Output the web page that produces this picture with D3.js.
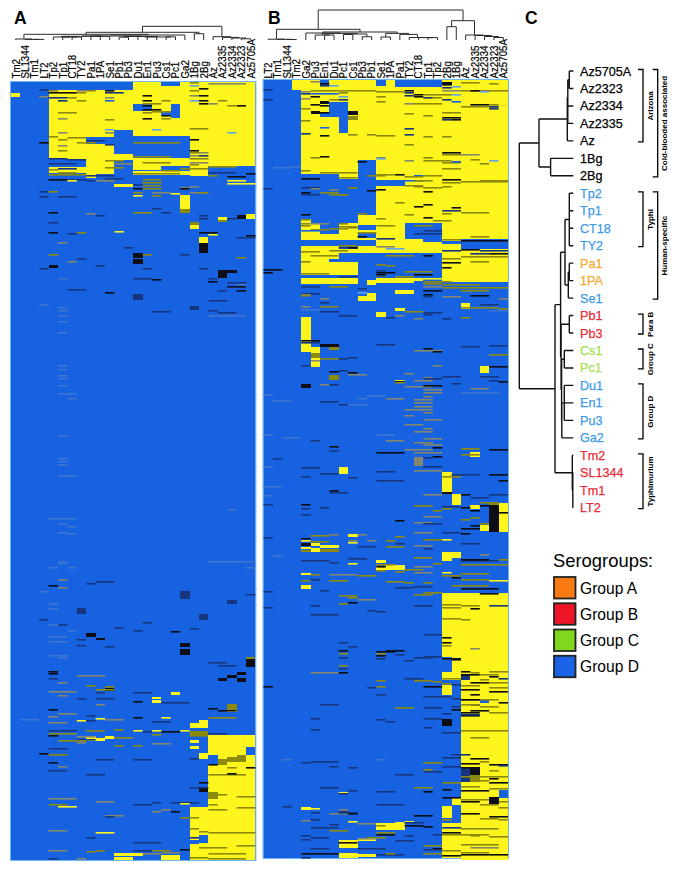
<!DOCTYPE html>
<html>
<head>
<meta charset="utf-8">
<script src="https://cdn.jsdelivr.net/npm/d3@7"></script>
<style>
  html, body { margin: 0; padding: 0; background: #fff; }
  text { font-family: "Liberation Sans", Arial, sans-serif; }
</style>
</head>
<body>
<div id="chart"></div>
<script>
const width = 678;
const height = 870;

// strain order of each heatmap
const columnsA = ["Tm2","SL1344","Tm1","LT2","Tp2","Tp1","CT18","TY2","Pa1","1PA","Se1","Pb1","Pb3","Du1","En1","Pu3","Cs1","Pc1","Ga2","1Bg","2Bg","Az","Az2335","Az2334","Az2323","Az5705A"];
const columnsB = ["LT2","Tm1","SL1344","Tm2","Ga2","Pu3","En1","Du1","Pc1","Cs1","Pb3","Pb1","Se1","1PA","Pa1","TY2","CT18","Tp1","Tp2","2Bg","1Bg","Az","Az2335","Az2334","Az2323","Az5705A"];
const leavesC = ["Az5705A","Az2323","Az2334","Az2335","Az","1Bg","2Bg","Tp2","Tp1","CT18","TY2","Pa1","1PA","Se1","Pb1","Pb3","Cs1","Pc1","Du1","En1","Pu3","Ga2","Tm2","SL1344","Tm1","LT2"];

// signal levels: -1 absent, 1 present, the rest in between; 2 grey, 3 pale blue, 4 faint
const levels = [-1, -0.5, 0, 0.5, 1, 2, 3, 4];
const levelColors = ["#1762e0", "#12367e", "#0c0c14", "#8c8a10", "#fdf51a", "#85866e", "#5fa4e8", "#3f74d0"];

// blocks: first column, end column, first row, end row, level
const blocksA = [
  [13,26,0,84,1],[16,18,0,4,-1],[0,1,11,15,1],[4,13,8,78,1],[11,13,48,72,-1],[13,19,54,76,-1],[8,11,55,62,-1],
  [13,15,22,29,-1],[17,18,22,36,-1],[16,17,29,33,-1],[4,8,77,84,-1],[4,8,85,91,1],[8,11,78,92,1],[8,9,92,96,1],
  [13,18,77,81,1],[13,16,83,88,1],[13,20,89,93,1],[19,21,84,94,1],[11,13,76,78,1],[11,13,102,105,1],
  [18,19,113,127,1],[18,19,127,131,0.5],[13,14,171,176,0],[13,14,177,182,0],[4,5,183,186,0],
  [20,21,155,161,1],[20,21,161,171,0],[19,20,143,147,1],[19,20,140,143,0.5],[22,23,135,138,1],[22,23,138,140,0.5],
  [25,26,132,137,1],[24,25,133,137,0],[22,23,188,191,0],[22,23,191,196,0],[23,24,188,191,0],
  [13,14,212,218,-0.5],[19,20,224,228,-0.5],[18,19,509,517,-0.5],[20,21,532,538,-0.5],[23,24,518,522,-0.5],[7,8,526,532,-0.5],
  [8,9,551,555,0],[9,10,556,558,0],[18,19,561,565,0],[18,19,567,573,0],[25,26,576,585,0],[25,26,575,577,0.5],
  [23,24,593,596,0],[24,25,590,593,0],[24,25,596,600,0],[22,23,596,599,0],
  [10,11,606,609,0],[15,16,615,617,1],[15,16,618,621,1],[17,18,610,613,1],[23,24,622,628,0.5],[23,24,628,630,1],
  [19,21,641,646,1],[20,21,638,641,1],[8,9,654,659,1],[9,10,656,659,1],[10,11,654,657,1],
  [21,26,653,690,1],[19,20,658,661,1],[19,20,664,667,1],[20,21,671,677,1],[19,21,649,653,0.5],
  [25,26,665,673,-1],[21,22,673,683,-1],[23,24,675,680,0.5],[22,23,677,683,0.5],[24,25,673,680,0.5],
  [21,26,690,778,1],[19,21,725,778,1],[20,21,753,761,-1],[19,20,758,762,-1],
  [11,14,771,774,1],[11,13,775,778,1],[16,18,773,778,1],[21,22,710,717,0.5],[20,21,706,710,0]
];

// streaks: row, first column, end column, level
const streaksA = [
  [7,3,4,-0.5],[8,4,5,0.5],[8,7,8,2],[8,8,9,0.5],[8,10,11,0],[8,19,20,0.5],[0,19,20,0.5],[3,19,20,3],[6,20,21,0],[1,21,25,2],
  [10,4,7,0],[10,7,8,0.5],[10,10,12,-0.5],[13,14,15,0],[13,19,20,2],[13,20,21,0],[14,3,4,2],[15,4,6,-0.5],[15,6,7,0.5],[15,10,11,2],
  [18,5,6,-0.5],[18,7,8,0.5],[18,10,11,-1],[18,14,15,0],[18,20,21,0],[18,19,20,3],[18,22,23,0.5],[18,16,17,0.5],
  [21,14,16,0.5],[21,20,21,0],[21,21,22,2],[23,24,25,0],[23,14,15,0],[23,23,24,0.5],[27,14,16,0],[29,15,17,0.5],[30,14,15,0.5],
  [30,5,7,0.5],[33,16,17,0],[36,14,15,0],[36,16,17,0.5],[36,5,6,2],[37,10,11,0.5],[46,19,21,0.5],[47,10,11,3],[50,5,6,2],[50,23,24,3],
  [47,15,16,3],[50,10,11,2],[54,4,5,0.5],[55,6,8,0.5],[57,5,6,0.5],[57,19,20,0],[58,8,10,-0.5],[60,3,4,0],[60,7,9,0.5],[60,13,15,0.5],[60,15,18,0.5],
  [62,10,11,-0.5],[63,5,6,2],[68,5,6,0.5],[68,19,20,0],[70,20,21,2],[70,19,20,0.5],[73,20,21,-0.5],[73,19,20,2],[74,13,15,0.5],[74,15,17,0.5],
  [76,4,6,-0.5],[76,19,21,0.5],[77,6,8,-0.5],[78,10,12,0.5],[80,14,17,0.5],[80,19,21,2],[81,4,7,-0.5],[81,11,13,2],[82,19,20,0.5],
  [84,21,24,0.5],[85,10,12,0.5],[86,18,21,0.5],[86,5,7,-0.5],[87,4,5,0.5],[88,16,18,0.5],[90,5,7,0.5],[90,21,24,-0.5],[91,13,18,0.5],[91,25,26,0],
  [92,4,8,0.5],[93,21,22,0.5],[93,8,11,-0.5],[94,23,25,0],[96,10,12,-0.5],[97,6,8,-0.5],[97,4,6,0],[98,6,7,1],[98,8,9,-0.5],[98,9,11,2],[97,14,16,0.5],
  [98,23,25,1],[100,14,16,0.5],[101,23,26,1],[102,13,14,-0.5],[103,14,16,0.5],[105,18,19,2],[106,13,14,0],[106,14,15,0.5],[106,15,16,0.5],[106,18,19,0],[104,19,20,2],
  [109,3,4,-0.5],[109,4,5,0.5],[110,13,14,0.5],[110,15,17,2],[110,19,21,2],[110,20,21,0.5],[111,17,18,1],[113,13,14,1],[113,15,16,0.5],[114,3,4,-0.5],[114,5,7,-0.5],
  [126,15,16,-0.5],[130,4,5,0],[130,13,15,0.5],[130,16,17,-0.5],[131,8,9,2],[133,9,10,-0.5],[133,20,21,-0.5],[136,20,21,-0.5],[140,4,5,-0.5],[136,23,24,-0.5],
  [150,4,5,0],[150,7,8,0.5],[149,11,12,1],[152,21,22,1],[150,20,22,0],[153,25,26,0],[155,24,26,-0.5],[151,6,7,-0.5],[160,5,6,2],[165,12,13,-0.5],[172,4,5,0.5],
  [172,13,14,0],[172,14,15,0.5],[175,24,25,0.5],[172,18,19,-0.5],[176,7,8,-0.5],[179,6,7,2],[183,9,10,-0.5],[186,14,15,-0.5],[186,3,4,-0.5],[186,20,21,-0.5],
  [196,13,15,-0.5],[196,21,22,-0.5],[197,15,16,0],[199,21,22,0],[200,23,25,-0.5],[204,23,25,0],[208,24,25,0],[207,6,8,-0.5],[210,10,11,0],[202,24,25,4],[208,22,23,-0.5],
  [218,21,23,-0.5],[222,3,4,4],[226,19,20,-0.5],[228,21,22,-0.5],[230,22,24,-0.5],[229,15,17,-0.5],[233,21,25,4],
  [196,5,6,4],[225,5,6,4],[228,5,6,4],[233,5,6,4],[239,5,6,4],[250,5,6,4],[283,5,6,4],[287,5,6,4],[293,5,6,4],[296,5,6,4],[303,5,6,4],[311,5,6,4],[311,6,7,4],[316,6,7,4],[353,5,6,4],[376,5,6,4],[379,5,6,4],[382,5,6,4],[393,5,6,4],[393,6,7,4],
  [436,4,6,4],[436,6,7,4],[441,5,6,4],[444,6,7,4],[450,5,6,4],[451,6,7,4],[479,5,6,4],[481,5,6,4],[485,4,5,4],[485,6,7,4],[479,21,26,4],[485,25,26,4],[427,23,24,4],
  [497,5,6,2],[503,4,5,0],[505,5,6,2],[501,8,9,-0.5],[499,9,11,-0.5],[509,3,4,4],[512,25,26,-0.5],[521,4,5,4],[526,4,5,4],[537,3,4,-0.5],[542,4,5,4],[542,5,6,-0.5],[548,6,7,4],
  [549,17,18,0],[546,19,20,-0.5],[545,11,12,-0.5],[540,14,15,-0.5],[548,13,14,-0.5],[554,4,6,4],[557,7,8,-0.5],[564,10,11,-0.5],
  [559,4,6,4],[563,7,8,-0.5],[573,4,6,4],[575,5,6,4],[580,21,23,-0.5],[583,22,24,-0.5],[589,4,5,0],[591,4,5,0],[593,7,10,2],[596,4,5,-0.5],[600,5,6,2],
  [603,8,9,0.5],[604,10,11,0.5],[607,9,11,0.5],[609,4,7,2],[610,9,10,-0.5],[610,13,15,-0.5],[613,5,6,2],[616,7,8,-0.5],[616,9,11,-0.5],[619,13,14,0],
  [622,9,10,2],[620,16,19,-0.5],[626,21,22,0],[628,22,24,0],[627,4,5,0],[635,21,24,0.5],[633,8,9,-0.5],[631,5,7,2],[634,4,5,2],[637,1,3,4],[635,16,17,1],
  [636,9,10,1],[640,4,6,2],[637,10,12,2],[635,13,14,0],[638,7,8,1],[638,8,9,-0.5],[639,15,17,-0.5],
  [648,4,7,-0.5],[648,8,10,0.5],[647,11,12,0.5],[648,13,14,1],[649,14,15,-0.5],[648,15,16,1],[649,16,18,0],[648,18,19,1],[651,4,7,0.5],[653,4,5,0],[652,15,16,0.5],[651,21,23,-0.5],[653,19,21,0.5],
  [654,7,9,2],[655,11,13,0.5],[657,7,9,-0.5],[658,5,8,0.5],[660,7,8,2],[663,13,14,0.5],[661,15,17,2],[663,11,12,0.5],[666,4,6,-0.5],[671,3,4,0],[672,4,6,0.5],[677,9,11,-0.5],[677,13,15,-0.5],[676,19,20,-0.5],
  [680,4,5,0],[684,5,6,2],[682,21,22,0],[685,23,24,0.5],[685,25,26,0],[688,4,6,-0.5],[692,21,25,0.5],[691,23,24,0],[692,8,10,-0.5],
  [700,20,21,0],[705,19,21,-0.5],[712,21,23,0.5],[714,24,26,0.5],[716,4,7,2],[719,9,11,2],[720,17,20,-0.5],[721,18,19,1],[722,21,22,0.5],[722,4,6,0.5],[724,5,7,1],[725,24,26,0.5],[727,21,23,0.5],
  [720,15,16,-0.5],[722,13,15,-0.5],[727,16,17,2],[729,17,18,0],[729,15,16,2],[733,10,12,2],[734,10,11,-0.5],[735,18,20,0.5],
  [748,4,6,2],[750,21,26,0.5],[750,9,11,1],[746,19,20,0.5],[749,20,21,0.5],[755,8,9,-0.5],[755,19,20,-0.5],[760,13,16,-0.5],[765,20,23,0.5],[768,13,15,-0.5],[763,24,26,0.5],
  [768,4,6,2],[768,9,10,0.5],[769,8,9,0.5],[768,15,17,0.5],[767,18,19,0],[770,16,18,2],[771,14,16,2],[771,21,25,0.5],[775,19,21,0.5],[776,4,5,-0.5],[776,7,8,2],[776,21,25,0.5]
];

const blocksB = [
  [3,26,-2,8,1],[4,26,8,172,1],[4,8,172,178,1],[19,26,172,200,1],[4,10,178,193,1],[12,13,-2,4,-1],[14,19,-2,5,-1],[6,7,-2,4,-1],[19,20,0,3,0],
  [7,9,20,35,-1],[8,9,35,51,-1],[6,7,30,35,-1],[6,7,19,22,0],[5,6,29,32,0],[9,10,29,33,0],[9,10,34,38,0.5],
  [10,12,78,133,-1],[4,10,92,133,-1],[8,10,92,97,1],[11,15,98,104,-1],[4,5,133,137,-1],[5,10,133,141,-1],[4,5,139,146,1],[5,9,144,148,1],
  [4,10,148,158,1],[6,8,140,152,-1],[10,12,143,148,-1],[10,12,150,156,-1],[4,12,158,164,-1],[8,10,164,167,-1],
  [15,19,141,157,-1],[17,19,157,160,-1],[21,26,157,167,-1],[19,21,159,162,-1],[8,19,171,180,-1],[10,19,180,196,-1],[7,9,177,180,-1],
  [4,10,193,198,-1],
  [4,10,196,202,1],[12,16,196,201,1],[12,13,192,195,0.5],[11,12,198,203,1],[14,17,196,199,1],[14,16,208,212,1],
  [10,12,214,219,1],[11,12,211,214,1],[12,13,230,235,1],[14,15,226,229,1],[21,22,221,227,1],[4,5,235,270,1],[5,6,265,271,1],
  [5,6,271,276,0.5],[5,6,276,285,1],[6,8,262,265,0],[7,8,265,268,0.5],[7,8,293,298,0.5],[4,5,302,306,0],
  [16,17,375,384,2],[8,9,385,392,1],[19,20,390,410,1],[19,20,410,412,0],[20,21,412,423,1],[23,24,284,291,1],[22,23,370,375,1],[22,23,423,427,1],
  [25,26,421,450,1],[24,25,421,424,0.5],[24,25,424,450,0],[23,24,443,449,1],[4,5,461,464,0],[4,5,465,467,1],[4,5,468,470,0.5],[5,6,461,464,1],[5,6,466,470,1],[6,8,463,466,1],[6,8,467,470,0.5],[9,10,452,455,1],
  [19,21,470,476,1],[19,20,476,479,1],[12,15,484,488,1],[12,13,478,481,1],[13,15,483,485,1],
  [4,5,491,493,1],[4,5,503,507,1],[19,26,511,575,1],[20,26,575,590,1],[21,26,590,778,1],[19,21,590,598,1],[19,20,603,613,1],
  [21,22,593,598,-0.5],[23,24,617,621,-1],[25,26,708,716,-1],[24,25,715,722,0],[19,20,637,644,0],[19,20,724,736,1],[20,21,715,723,1],[19,21,741,776,1],
  [22,23,686,700,0.5],[22,23,685,693,0],[21,22,686,700,-0.5],[8,10,758,766,1],[10,12,756,759,1],[12,15,741,748,1],[8,10,771,776,1],[10,12,772,775,1],[4,5,725,728,1]
];

const streaksB = [
  [-1,5,6,2],[1,6,7,0],[3,7,8,3],[2,19,20,0],[4,20,21,3],[0,21,23,0.5],[1,24,25,0.5],[3,6,7,-0.5],[5,19,20,-0.5],[7,0,1,-0.5],[9,4,5,2],[8,15,16,0],[10,15,16,-0.5],
  [8,19,21,2],[8,21,26,0.5],[8,5,12,0.5],[9,12,15,0.5],[8,22,23,0],[9,23,24,3],[11,4,5,-0.5],[11,5,8,-1],[10,8,9,0.5],[12,16,17,0],[12,17,19,0.5],[12,19,20,0.5],[12,20,21,3],
  [13,15,16,-0.5],[14,5,6,0],[14,8,9,3],[14,12,13,0.5],[14,16,17,0],[15,17,18,-0.5],[15,18,19,0.5],[17,0,1,-0.5],[16,4,5,2],[17,19,20,-0.5],[17,8,9,-0.5],[17,7,8,0.5],
  [19,20,21,-1],[19,12,13,0.5],[21,15,16,2],[21,16,18,0.5],[21,18,19,0.5],[22,21,22,1],[22,22,24,0],[22,24,26,0.5],[22,25,26,1],[24,21,25,0.5],[24,24,25,-0.5],[26,24,25,-0.5],
  [22,5,6,0],[23,6,7,0],[26,4,5,0.5],[30,6,7,0],[31,15,16,0.5],[30,19,21,0.5],[33,17,18,0.5],[35,19,21,0],[37,19,20,-0.5],[37,20,21,0],[38,4,5,0.5],[45,6,7,-1],[46,15,16,-0.5],[51,4,5,-0.5],
  [52,9,10,0.5],[53,6,7,0],[52,11,12,0.5],[52,15,16,-0.5],[53,12,14,0.5],[54,17,18,0.5],[54,19,20,0.5],[62,15,16,0.5],[70,19,21,0],[72,19,21,0.5],[72,21,23,2],[74,6,7,0],[75,5,6,0.5],
  [75,12,13,2],[75,17,18,0.5],[78,15,16,2],[79,10,11,0],[76,12,13,3],[77,22,23,0.5],[78,24,25,3],[78,17,20,0.5],[80,19,21,0.5],[79,20,21,-1],[81,23,24,0.5],[84,3,4,4],[85,1,3,4],
  [86,19,21,0.5],[88,4,5,0.5],[90,6,8,0.5],[90,8,10,0.5],[92,12,14,0.5],[92,14,15,0],[93,11,13,0.5],[93,16,17,-1],[94,15,17,0.5],[93,17,19,0.5],[95,8,10,0.5],[96,4,6,0],[97,19,21,0],
  [98,14,17,-1],[98,16,18,0.5],[100,19,21,0.5],[99,21,26,0.5],[98,23,26,0.5],[103,15,17,0.5],[106,0,1,-0.5],[105,4,6,-0.5],[104,19,20,0.5],[105,17,19,0.5],[104,16,17,0.5],[106,5,6,2],[107,7,8,2],[105,9,10,0.5],
  [110,4,5,0],[110,6,8,0.5],[112,8,9,0.5],[109,17,18,0],[107,12,13,0],[108,11,12,0],[112,4,6,-0.5],[112,7,9,0.5],[120,14,15,0.5],[124,16,17,0],[122,17,18,0],[128,19,21,-0.5],[125,20,21,0],[130,21,24,0.5],[131,19,20,0.5],
  [131,10,11,0.5],[132,4,5,0],[132,15,16,0.5],[135,17,18,0],[137,4,5,0.5],[136,12,13,0.5],[138,18,20,0.5],[141,4,5,0.5],[141,5,7,2],[141,8,9,0.5],[143,4,5,0.5],[143,16,18,0.5],[143,12,14,0.5],[145,9,10,0.5],
  [144,8,10,0.5],[146,7,9,0.5],[147,5,7,0.5],[146,19,21,1],[148,4,6,-1],[150,10,12,0.5],[151,16,19,-0.5],[148,17,19,-0.5],[154,10,11,0],[154,22,24,0.5],[156,12,14,-0.5],[157,19,21,0.5],[158,21,24,0],[158,24,26,0],
  [163,8,10,0.5],[165,8,10,-0.5],[166,13,15,3],[164,12,14,2],[168,7,9,0.5],[165,9,10,0],[168,19,21,-0.5],[167,21,23,0],[168,23,26,-0.5],[169,4,6,0.5],[171,22,24,-0.5],[171,24,26,0],[173,5,8,0.5],[173,17,18,0],
  [173,13,16,0.5],[174,21,26,0.5],[176,19,21,0.5],[179,4,5,0.5],[179,22,24,0.5],[180,19,21,0],[182,12,13,0.5],[183,13,14,0.5],[185,19,20,0],[187,0,2,0],[190,12,14,0],[190,0,1,0],[192,12,13,0],[194,14,16,0.5],[193,12,13,-0.5],
  [188,12,13,-0.5],[189,15,18,0.5],[192,16,18,0],[191,4,7,0.5],[194,8,10,-0.5],[196,16,19,1],[199,17,20,0.5],[201,17,19,0.5],[202,19,23,0.5],[204,4,6,-0.5],[204,7,9,0.5],[204,17,19,2],[205,19,24,0.5],[205,24,26,0.5],
  [208,17,19,0],[208,21,24,0.5],[206,10,11,-0.5],[210,10,11,3],[211,4,6,-0.5],[212,4,5,2],[213,4,5,0.5],[212,17,18,0],[214,17,18,-0.5],[214,19,21,2],[216,25,26,2],[213,22,24,0],[216,6,7,2],[220,6,7,-0.5],
  [224,4,5,2],[222,23,25,-0.5],[224,6,8,0.5],[225,21,25,0.5],[226,25,26,0.5],[229,6,8,-0.5],[229,15,17,0.5],[230,17,19,-0.5],[227,4,6,4],[228,24,26,4],[232,17,18,-0.5],[233,8,10,-0.5],[233,14,15,2],[235,13,14,-0.5],[235,21,22,0.5],[236,16,17,2],[236,19,20,-0.5],
  [258,4,6,0],[260,4,6,-0.5],[262,12,14,-0.5],[264,21,23,-0.5],[263,24,26,-0.5],[266,17,18,0],[268,16,19,2],[269,18,19,0],[275,9,10,-0.5],[276,8,9,-0.5],[276,6,8,0.5],[272,24,26,0.5],[278,5,6,2],[283,18,19,2],[283,4,5,-0.5],
  [284,24,26,0],[289,7,8,0],[288,8,9,-0.5],[290,9,10,0],[292,9,11,2],[291,15,16,2],[295,17,18,2],[294,19,21,-0.5],[299,25,26,0],[294,23,25,-0.5],[298,24,25,-0.5],[296,17,19,-0.5],[298,16,18,2],
  [298,14,15,1],[299,14,15,0],[300,14,15,0.5],[302,6,7,2],[301,20,21,-0.5],[302,7,8,-0.5],[304,15,18,2],[306,22,24,2],[303,17,19,0],[307,17,19,2],[310,17,19,2],[310,21,25,4],[312,0,1,4],
  [316,10,11,4],[313,11,13,4],[316,13,15,2],[317,16,18,2],[314,17,18,2],[318,1,3,4],[319,6,8,-0.5],[320,16,18,2],[322,8,9,-0.5],[322,9,11,4],[324,16,18,2],[327,15,18,2],[330,17,18,2],[333,15,16,2],[337,17,19,2],
  [342,15,17,2],[346,17,18,2],[349,16,18,2],[352,12,14,4],[356,17,19,2],[358,13,15,2],[360,16,18,2],[352,0,1,4],[355,2,4,4],[358,5,6,-0.5],[362,17,19,2],[367,15,18,2],[370,12,15,0],[370,16,19,2],[368,7,8,-0.5],
  [364,7,8,0],[365,18,19,0],[366,21,23,0.5],[367,24,26,0],[372,21,23,0.5],[374,18,19,0],[376,1,2,-0.5],[375,17,18,-0.5],[384,17,19,-0.5],[384,0,1,4],[385,4,6,-0.5],[388,16,19,2],[389,12,14,-0.5],[391,6,8,-0.5],
  [392,20,23,-0.5],[392,24,26,0],[395,9,10,-0.5],[394,4,5,-0.5],[394,19,21,0.5],[398,12,15,-0.5],[398,25,26,0],[404,0,2,4],[410,7,9,-0.5],[408,7,8,0],[412,17,19,2],[415,22,24,-0.5],[412,24,26,-0.5],[413,0,1,4],[412,21,22,0],
  [422,0,1,-0.5],[422,4,5,0],[420,23,25,0.5],[423,23,25,0],[424,19,21,-0.5],[425,21,22,0],[423,16,18,0.5],[426,4,5,-0.5],[426,19,20,0.5],[425,6,7,-0.5],[428,18,19,0.5],[428,22,23,0],[430,25,26,0],[432,4,5,-0.5],[434,17,19,2],
  [435,22,23,0.5],[438,14,15,0],[437,21,22,0.5],[440,16,18,2],[441,23,24,0.5],[443,22,23,0],[441,17,19,-0.5],[446,21,23,0],[452,7,8,2],[450,16,18,2],[450,19,21,-0.5],[451,21,22,0],[455,0,1,-0.5],[453,5,7,0.5],[452,10,11,2],
  [454,14,15,0.5],[456,4,5,0],[458,9,10,2],[458,11,12,2],[457,17,19,0.5],[457,19,20,1],[458,13,14,0.5],[458,4,5,1],[459,5,7,0.5],[460,9,10,1],[463,16,18,2],[461,14,15,-0.5],[461,21,23,-0.5],[464,10,12,-0.5],[464,13,15,0.5],
  [466,17,18,-0.5],[473,1,2,4],[472,23,24,2],[476,9,11,-0.5],[475,16,18,0.5],[478,21,25,-0.5],[477,21,24,0],[477,25,26,0.5],[478,4,7,-0.5],[480,7,8,-0.5],[481,18,19,0.5],[481,9,10,1],[482,12,14,0.5],
  [482,21,26,0.5],[484,16,18,2],[484,12,13,0],[488,12,13,0.5],[489,14,15,0.5],[487,15,17,0.5],[490,16,18,2],[490,19,20,1],[491,21,24,0.5],[492,5,6,0.5],[492,7,8,2],[492,8,10,2],[493,10,12,0.5],[493,19,21,0.5],
  [495,20,21,0],[497,21,24,0.5],[498,4,5,0.5],[497,5,6,-0.5],[498,24,26,1],[498,7,9,0.5],[499,13,15,0.5],[500,15,16,0.5],[500,17,18,0.5],[503,20,22,0.5],[503,22,24,0.5],[506,21,25,0],[504,16,18,-0.5],[505,14,16,-0.5],
  [509,0,1,-0.5],[508,6,7,-0.5],[510,17,19,0.5],[512,16,18,0.5],[511,23,25,0],[513,8,10,0.5],[515,9,10,0.5],[517,10,12,2],[520,9,10,0],[521,8,9,0.5],[523,5,6,-0.5],[522,19,21,0.5],[523,21,23,0.5],[523,24,26,-0.5],
  [525,0,1,-0.5],[525,19,21,0.5],[526,22,23,0],[529,12,13,-0.5],[528,11,12,-0.5],[532,5,8,-0.5],[536,19,21,0.5],[523,16,18,-0.5],[537,21,22,0.5],[552,17,19,-0.5],[555,19,20,0],[560,19,20,0],[563,19,20,0.5],
  [566,22,23,2],[560,8,9,-0.5],[564,9,10,-0.5],[568,8,9,0],[571,8,9,0.5],[571,12,13,0.5],[568,13,15,0],[572,14,15,-0.5],[569,12,14,0],[573,12,13,0],[575,8,9,-0.5],[576,19,21,0],[577,20,21,0],[574,17,19,-0.5],[578,15,16,-0.5],
  [575,16,18,-0.5],[576,12,13,-0.5],[586,8,9,-0.5],[583,8,9,0.5],[590,5,8,2],[590,8,9,0],[589,21,22,0],[589,24,26,0.5],[590,22,23,0.5],[592,21,23,0],[592,23,25,0.5],[594,24,25,0],[594,19,21,1],[596,19,21,0.5],
  [597,23,24,0.5],[596,25,26,-0.5],[598,12,13,0.5],[596,15,17,-0.5],[598,16,18,0.5],[600,22,24,0],[599,18,19,0.5],[601,19,20,0.5],[600,24,26,0.5],[602,20,21,-0.5],[604,0,1,0],[605,11,12,-0.5],[604,12,13,0.5],[604,17,19,0],
  [603,21,23,0.5],[605,24,26,0.5],[607,21,23,0],[609,24,26,0],[612,12,13,-0.5],[614,17,19,-0.5],[614,19,20,-0.5],[612,22,23,0],[616,20,21,-0.5],[617,21,25,0.5],[617,21,23,0],[620,25,26,0],[622,22,23,0],[622,6,8,-0.5],[622,21,23,0.5],
  [624,20,21,-0.5],[624,23,25,0.5],[625,14,16,0.5],[625,17,19,-0.5],[627,20,21,0],[630,24,26,0.5],[630,21,23,0],[628,22,24,0],[631,19,20,-0.5],[633,21,23,0],[636,5,6,-0.5],[632,21,23,-0.5],[636,17,19,-0.5],[637,12,13,-0.5],
  [639,13,14,-0.5],[647,5,6,-0.5],[645,17,18,-0.5],[648,21,26,0.5],[650,19,21,-0.5],[655,22,24,0.5],[677,2,3,4],[680,4,5,-0.5],[680,17,19,0.5],[677,12,13,4],[672,20,22,-0.5],[675,19,21,-0.5],[676,22,24,0],
  [679,5,8,-0.5],[679,23,24,0.5],[681,21,23,0],[682,24,26,0],[683,25,26,-0.5],[685,9,10,-0.5],[684,7,8,-0.5],[684,19,21,-0.5],[687,17,18,0.5],[685,21,23,0],[688,24,25,0.5],[689,17,19,-0.5],[692,14,16,-0.5],[694,21,26,0.5],
  [696,24,25,0],[698,22,24,0.5],[700,24,26,0],[704,21,23,0.5],[700,19,21,0.5],[706,24,26,0.5],[705,6,8,-0.5],[705,16,18,0.5],[708,21,24,0],[710,8,9,1],[711,8,9,-0.5],[708,9,10,-0.5],[709,17,18,0],[709,12,14,-0.5],[707,19,20,0],
  [715,19,21,0],[717,21,24,0.5],[719,21,23,0],[719,25,26,0.5],[722,23,25,0.5],[722,12,15,-0.5],[723,21,22,1],[724,2,3,-0.5],[725,25,26,0.5],[726,5,6,1],[727,8,9,2],[729,8,9,-0.5],[731,7,9,2],[730,5,6,-0.5],[730,8,10,-0.5],
  [731,21,23,0],[731,9,10,0],[733,16,18,0],[734,24,26,0],[736,23,25,0.5],[737,25,26,0.5],[737,19,20,0.5],[737,5,6,-0.5],[738,4,5,2],[739,9,10,1],[740,14,15,1],[739,15,16,1],[741,10,12,2],[740,15,17,-0.5],[743,15,17,0],
  [743,12,13,0.5],[745,6,8,-0.5],[742,7,8,-0.5],[744,17,18,0],[745,5,6,-0.5],[745,19,21,-0.5],[746,21,25,0.5],[748,7,9,0.5],[750,12,14,0.5],[752,12,14,0],[750,19,21,0],[752,19,21,0.5],[752,21,24,0.5],[752,18,19,-0.5],[753,22,23,0.5],
  [753,4,5,-0.5],[755,11,13,0.5],[753,15,16,-0.5],[757,4,5,-0.5],[754,24,26,0.5],[756,10,12,2],[755,5,7,-0.5],[758,14,16,-0.5],[760,8,10,0],[763,17,19,0.5],[762,21,25,0.5],[765,22,25,2],[766,5,7,-0.5],[766,10,12,-0.5],[766,12,13,-0.5],
  [766,18,19,0],[767,17,19,-0.5],[768,19,21,0.5],[770,21,24,0.5],[772,21,24,0],[771,4,7,0],[771,7,8,0],[772,12,15,-0.5],[771,13,14,0.5],[771,17,19,0.5],[773,19,21,0],[772,24,26,0],[775,4,5,-0.5]
];

// dendrograms: [height, ...children], leaves are strain names
const treeA = [13.7,
  [7.7,
    [5.7, [1,"Tm2",[0.6,"SL1344",[0.6,"Tm1","LT2"]]],
      [5, [4,
        [3.7, [3,"Tp2",[3,"Tp1",[3,"CT18","TY2"]]], [3.7,[4,"Pa1","1PA"],"Se1"]],
        [3.5, [2.8,"Pb1","Pb3"], [3,[3.6,"Du1",[3.4,"En1","Pu3"]],[3.2,"Cs1","Pc1"]]]
      ], "Ga2"]],
    [6.3,"1Bg","2Bg"]],
  [3.3,"Az",[2.6,"Az2335",[2,"Az2334",[1.2,"Az2323","Az5705A"]]]]
];
const treeB = [30,
  [10.7,
    [0.8,"LT2",[0.7,"Tm1",[0.5,"SL1344","Tm2"]]],
    [8,
      [7, "Ga2", [6.6, [5,"Pu3",[5,"En1","Du1"]], [6,[5.5,"Pc1","Cs1"],[3.3,"Pb3","Pb1"]]]],
      [6.6, [3,"Se1","1PA"], [5.6,"Pa1",[2.5,"TY2",[2.4,"CT18",[2.4,"Tp1","Tp2"]]]]]
    ]],
  [19.3,
    [13.3,"2Bg","1Bg"],
    [5,"Az",[4.5,"Az2335",[3.5,"Az2334",[2.5,"Az2323","Az5705A"]]]]]
];
const treeC = [0,
  [19.7,
    [48,[48.5,[50,"Az5705A","Az2323"],[48.5,"Az2334","Az2335"]],"Az"],
    [31.3,"1Bg","2Bg"]],
  [35.7,
    [41.3,
      [45.7,[50,"Tp2","Tp1","CT18","TY2"],[49,[50,"Pa1","1PA"],"Se1"]],
      [41.8,[50,"Pb1","Pb3"],[42.3,[45,"Cs1","Pc1"],[42.5,[45,"Du1","En1","Pu3"],"Ga2"]]]],
    [53,"Tm2",[53.5,"SL1344","Tm1","LT2"]]]
];

// serogroups
const groupNames = ["Group A","Group B","Group C","Group D"];
const groupColors = ["#f77a12","#ee1526","#7ed81c","#1a62e6"];
const labelGroupA = ["Pa1","1PA"];
const labelGroupB = ["Pb1","Pb3","Tm2","SL1344","Tm1","LT2"];
const labelGroupC = ["Cs1","Pc1"];
const labelGroupD = ["Tp2","Tp1","CT18","TY2","Se1","Du1","En1","Pu3","Ga2"];

// brackets: name, first leaf, last leaf, outer ring
const brackets = [
  ["Arizona","Az5705A","Az",0],
  ["Cold-blooded associated","Az5705A","2Bg",1],
  ["Typhi","Tp2","TY2",0],
  ["Human-specific","Tp2","Se1",1],
  ["Para B","Pb1","Pb3",0],
  ["Group C","Cs1","Pc1",0],
  ["Group D","Du1","Ga2",0],
  ["Typhimurium","Tm2","LT2",0]
];

const svg = d3
  .select("#chart")
  .append("svg")
  .attr("width", width)
  .attr("height", height)
  .attr("viewBox", `0 0 ${width} ${height}`)
  .style("display", "block");

svg.append("defs")
  .append("filter")
  .attr("id", "soft")
  .attr("x", "-2%").attr("y", "-2%").attr("width", "104%").attr("height", "104%")
  .append("feGaussianBlur")
  .attr("stdDeviation", 0.5);

const colorScale = d3.scaleOrdinal().domain(levels).range(levelColors);

function drawHeatmap(columns, blocks, streaks, xRange, yRange, rowDomain) {
  const x = d3.scaleBand().domain(columns).range(xRange);
  const y = d3.scaleLinear().domain(rowDomain).range(yRange);
  const left = (c) => x(columns[c]);
  const right = (c) => x(columns[c - 1]) + x.bandwidth();

  svg.append("rect")
    .attr("x", xRange[0] - 0.5)
    .attr("y", yRange[0] - 0.5)
    .attr("width", xRange[1] - xRange[0] + 1)
    .attr("height", yRange[1] - yRange[0] + 1)
    .attr("fill", "none")
    .attr("stroke", "#6fb6f4")
    .attr("stroke-width", 1);

  const g = svg.append("g").attr("filter", "url(#soft)");

  g.append("rect")
    .attr("x", xRange[0])
    .attr("y", yRange[0])
    .attr("width", xRange[1] - xRange[0])
    .attr("height", yRange[1] - yRange[0])
    .attr("fill", colorScale(-1));

  g.selectAll(".block")
    .data(blocks)
    .enter()
    .append("rect")
    .attr("class", "block")
    .attr("shape-rendering", "crispEdges")
    .attr("x", (d) => left(d[0]))
    .attr("width", (d) => right(d[1]) - left(d[0]))
    .attr("y", (d) => y(d[2]))
    .attr("height", (d) => y(d[3]) - y(d[2]))
    .attr("fill", (d) => colorScale(d[4]));

  // one gene row is a bit under two row units high
  g.selectAll(".streak")
    .data(streaks)
    .enter()
    .append("rect")
    .attr("class", "streak")
    .attr("x", (d) => left(d[1]))
    .attr("width", (d) => right(d[2]) - left(d[1]))
    .attr("y", (d) => y(d[0]))
    .attr("height", (d) => y(d[0] + 1.6) - y(d[0]))
    .attr("fill", (d) => colorScale(d[3]));

  return x;
}

function hierarchyOf(tree) {
  return d3.hierarchy(tree, (d) => (Array.isArray(d) ? d.slice(1) : null));
}

function drawTopTree(tree, x, baseY, unit) {
  const root = hierarchyOf(tree);
  const h = d3.scaleLinear().domain([0, 1]).range([baseY, baseY - unit]);
  const p = d3.path();
  root.eachAfter((n) => {
    if (n.children) {
      const kids = n.children;
      n.px = (kids[0].px + kids[kids.length - 1].px) / 2;
      n.py = h(n.data[0]);
      p.moveTo(kids[0].px, n.py);
      p.lineTo(kids[kids.length - 1].px, n.py);
      kids.forEach((k) => {
        p.moveTo(k.px, n.py);
        p.lineTo(k.px, k.py);
      });
    } else {
      n.px = x(n.data) + x.bandwidth() / 2;
      n.py = baseY;
    }
  });
  svg.append("path")
    .attr("d", p.toString())
    .attr("fill", "none")
    .attr("stroke", "#2b2b2b")
    .attr("stroke-width", 1);
}

function drawColumnLabels(columns, x, bottom) {
  svg.append("g")
    .selectAll("text")
    .data(columns)
    .enter()
    .append("text")
    .attr("transform", (d) => `translate(${x(d) + x.bandwidth() / 2 + 3.8},${bottom}) rotate(-90) scale(0.9,1)`)
    .attr("font-size", 10.8)
    .attr("fill", "#000")
    .attr("stroke", "#000")
    .attr("stroke-width", 0.2)
    .text((d) => d);
}

const xA = drawHeatmap(columnsA, blocksA, streaksA, [11, 255.4], [82, 860], [0, 778]);
const xB = drawHeatmap(columnsB, blocksB, streaksB, [263.5, 508], [80, 858], [-2, 776]);
drawTopTree(treeA, xA, 40, 1);
drawTopTree(treeB, xB, 40, 1);
drawColumnLabels(columnsA, xA, 78.5);
drawColumnLabels(columnsB, xB, 78.5);

// panel letters
const panelLetters = ["A", "B", "C"];
const panelLetterX = [14, 268, 525];
svg.append("g")
  .selectAll("text")
  .data(panelLetters)
  .enter()
  .append("text")
  .attr("x", (d, i) => panelLetterX[i])
  .attr("y", 24)
  .attr("font-size", 17.5)
  .attr("font-weight", 700)
  .text((d) => d);

// panel C tree
const yC = d3.scalePoint().domain(leavesC).range([71, 507.7]);
const xC = d3.scaleLinear().domain([0, 54]).range([519.3, 573.3]);
const rootC = hierarchyOf(treeC);
const pathC = d3.path();
rootC.eachAfter((n) => {
  if (n.children) {
    const kids = n.children;
    n.py = (kids[0].py + kids[kids.length - 1].py) / 2;
    n.px = xC(n.data[0]);
    pathC.moveTo(n.px, kids[0].py);
    pathC.lineTo(n.px, kids[kids.length - 1].py);
    kids.forEach((k) => {
      pathC.moveTo(n.px, k.py);
      pathC.lineTo(k.px, k.py);
    });
  } else {
    n.px = xC(54);
    n.py = yC(n.data);
  }
});
svg.append("path")
  .attr("d", pathC.toString())
  .attr("fill", "none")
  .attr("stroke", "#111")
  .attr("stroke-width", 1.4);

function leafColor(name) {
  if (labelGroupA.includes(name)) return "#f5a92e";
  if (labelGroupB.includes(name)) return "#ea2a36";
  if (labelGroupC.includes(name)) return "#a2e24c";
  if (labelGroupD.includes(name)) return "#3d9ae8";
  return "#000";
}

svg.append("g")
  .selectAll("text")
  .data(leavesC)
  .enter()
  .append("text")
  .attr("x", 580)
  .attr("y", (d) => yC(d) + 4.5)
  .attr("font-size", 12.6)
  .attr("fill", leafColor)
  .attr("stroke", leafColor)
  .attr("stroke-width", 0.25)
  .text((d) => d);

// brackets and their rotated names
const bracketX = d3.scaleOrdinal().domain([0, 1]).range([643, 657.7]);
const bracketG = svg.append("g");
bracketG.selectAll("path")
  .data(brackets)
  .enter()
  .append("path")
  .attr("d", (d) => {
    const p = d3.path();
    const bx = bracketX(d[3]);
    p.moveTo(bx - 5, yC(d[1]) - 1.5);
    p.lineTo(bx, yC(d[1]) - 1.5);
    p.lineTo(bx, yC(d[2]) + 1);
    p.lineTo(bx - 5, yC(d[2]) + 1);
    return p.toString();
  })
  .attr("fill", "none")
  .attr("stroke", "#000")
  .attr("stroke-width", 1.3);
bracketG.selectAll("text")
  .data(brackets)
  .enter()
  .append("text")
  .attr("transform", (d) => `translate(${bracketX(d[3]) + 9.5},${(yC(d[1]) + yC(d[2])) / 2}) rotate(-90)`)
  .attr("text-anchor", "middle")
  .attr("font-size", 8)
  .attr("font-weight", 700)
  .text((d) => d[0]);

// legend
const legendY = d3.scaleBand().domain(groupNames).range([576, 681]);
const legend = svg.append("g");
legend.append("text")
  .attr("x", 553)
  .attr("y", 566.5)
  .attr("font-size", 18.4)
  .text("Serogroups:");
legend.selectAll("rect")
  .data(groupNames)
  .enter()
  .append("rect")
  .attr("x", 554)
  .attr("y", (d) => legendY(d) + 1)
  .attr("width", 21.5)
  .attr("height", 21.5)
  .attr("fill", (d, i) => groupColors[i])
  .attr("stroke", "#222")
  .attr("stroke-width", 1.8);
legend.selectAll(".group-name")
  .data(groupNames)
  .enter()
  .append("text")
  .attr("class", "group-name")
  .attr("x", 580)
  .attr("y", (d) => legendY(d) + 17.5)
  .attr("font-size", 15.6)
  .text((d) => d);
</script>
</body>
</html>
